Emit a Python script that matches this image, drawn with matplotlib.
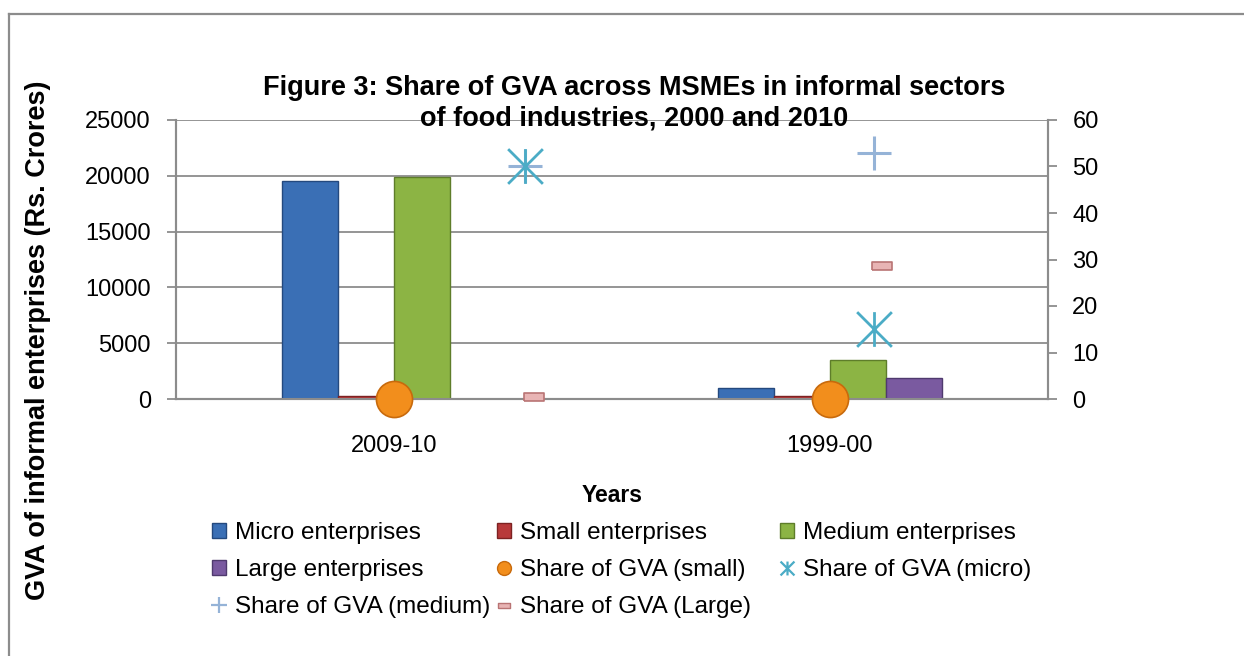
import matplotlib as mpl
mpl.use('Agg')
import matplotlib.pyplot as plt
from matplotlib.lines import Line2D
from matplotlib.patches import Patch
from matplotlib.path import Path
import numpy as np

plt.rcParams['font.family'] = ['Liberation Sans', 'DejaVu Sans']

# data
years = ['2009-10', '1999-00']
micro = [19500, 1000]
small = [250, 230]
medium = [19850, 3500]
large = [0, 1900]

share_small = [0, 0]
share_micro = [50, 15]
share_medium = [50, 53]
share_large = [0.4, 28.5]

bar_names = ['Micro enterprises', 'Small enterprises', 'Medium enterprises', 'Large enterprises']
bar_colors = ['#3a6fb5', '#b8393a', '#8cb444', '#7a5aa0']
bar_edges = ['#24497e', '#7d2222', '#5e7d2a', '#4f3a6e']

W, H = 1244, 656
fig = plt.figure(figsize=(W / 100.0, H / 100.0), dpi=100)

def fx(px):
    return px / float(W)

def fy(py):
    return 1 - py / float(H)

ax = fig.add_axes([fx(176), fy(399), fx(1048) - fx(176), fy(120) - fy(399)])
ax2 = ax.twinx()

x = np.arange(len(years))
w = 0.129
series = [micro, small, medium, large]
for i, vals in enumerate(series):
    ax.bar(x + (i - 1.5) * w, vals, w, color=bar_colors[i], edgecolor=bar_edges[i],
           linewidth=1.0, zorder=3)

ax.set_xlim(-0.5, 1.5)
ax.set_ylim(0, 25000)
ax.set_yticks(np.arange(0, 25001, 5000))
ax.set_xticks(x)
ax.set_xticklabels(years)
ax.yaxis.grid(True, color='#8c8c8c', linewidth=1.3)
ax.set_axisbelow(True)

grey = '#8c8c8c'
for a in (ax, ax2):
    a.spines['top'].set_visible(False)
    for s in ('left', 'right', 'bottom'):
        a.spines[s].set_color(grey)
        a.spines[s].set_linewidth(1.5)
ax.tick_params(axis='y', colors=grey, labelcolor='black', labelsize=17, length=6.5, width=1.3, pad=11.5)
ax.tick_params(axis='x', length=0, labelsize=17, pad=26)

ax2.set_ylim(0, 60)
ax2.set_yticks(np.arange(0, 61, 10))
ax2.tick_params(axis='y', colors=grey, labelcolor='black', labelsize=17, length=6.5, width=1.3, pad=11)

# markers of the share series sit at their own offsets inside each category
off_small = [0.0, 0.0]
off_micro = [0.30, 0.10]
off_medium = [0.30, 0.10]
off_large = [0.32, 0.12]

ast = Path([(0, -1), (0, 1), (-1, -1), (1, 1), (-1, 1), (1, -1)],
           [Path.MOVETO, Path.LINETO, Path.MOVETO, Path.LINETO, Path.MOVETO, Path.LINETO])
rect = [(-1, -0.4), (1, -0.4), (1, 0.4), (-1, 0.4), (-1, -0.4)]

ax2.plot(x + off_medium, share_medium, linestyle='none', marker='+', markersize=25,
         markeredgewidth=2.2, color='#95b3d7', clip_on=False, zorder=4)
ax2.plot(x + off_micro, share_micro, linestyle='none', marker=ast, markersize=25,
         markeredgewidth=2.0, color='#4bacc6', clip_on=False, zorder=5)
ax2.plot(x + off_large, share_large, linestyle='none', marker=rect, markersize=14,
         markerfacecolor='#e8b4b4', markeredgecolor='#b97474', markeredgewidth=1.2,
         clip_on=False, zorder=5)
ax2.plot(x + off_small, share_small, linestyle='none', marker='o', markersize=26,
         markerfacecolor='#f28e1c', markeredgecolor='#c86a0c', markeredgewidth=1.2,
         clip_on=False, zorder=6)

# titles
fig.text(fx(634), fy(88), 'Figure 3: Share of GVA across MSMEs in informal sectors',
         ha='center', va='center', fontsize=19.5, fontweight='bold')
fig.text(fx(634), fy(119), 'of food industries, 2000 and 2010',
         ha='center', va='center', fontsize=19.5, fontweight='bold')
fig.text(fx(38), fy(340), 'GVA of informal enterprises (Rs. Crores)', rotation=90,
         ha='center', va='center', fontsize=19.5, fontweight='bold')
fig.text(fx(612), fy(495), 'Years', ha='center', va='center', fontsize=16.5, fontweight='bold')

# legend, one block per column
h_micro = Patch(facecolor=bar_colors[0], edgecolor=bar_edges[0])
h_small = Patch(facecolor=bar_colors[1], edgecolor=bar_edges[1])
h_medium = Patch(facecolor=bar_colors[2], edgecolor=bar_edges[2])
h_large = Patch(facecolor=bar_colors[3], edgecolor=bar_edges[3])
h_ssmall = Line2D([], [], linestyle='none', marker='o', markersize=10,
                  markerfacecolor='#f28e1c', markeredgecolor='#c86a0c')
h_smicro = Line2D([], [], linestyle='none', marker=ast, markersize=10,
                  markeredgewidth=1.6, color='#4bacc6')
h_smedium = Line2D([], [], linestyle='none', marker='+', markersize=11,
                   markeredgewidth=1.6, color='#95b3d7')
h_slarge = Line2D([], [], linestyle='none', marker=rect, markersize=9,
                  markerfacecolor='#e8b4b4', markeredgecolor='#b97474')

cols = [
    ([h_micro, h_large, h_smedium], [bar_names[0], bar_names[3], 'Share of GVA (medium)'], 212),
    ([h_small, h_ssmall, h_slarge], [bar_names[1], 'Share of GVA (small)', 'Share of GVA (Large)'], 497),
    ([h_medium, h_smicro], [bar_names[2], 'Share of GVA (micro)'], 780),
]
for handles, labels, px in cols:
    lg = fig.legend(handles, labels, loc='upper left', bbox_to_anchor=(fx(px), fy(522)),
                    frameon=False, fontsize=17.5, handlelength=0.56, handleheight=0.56,
                    handletextpad=0.4, labelspacing=0.61, borderpad=0, borderaxespad=0)

# outer frame of the picture (only top and left edges are visible)
fig.add_artist(Line2D([fx(9), 1.0], [fy(14), fy(14)], color=grey, linewidth=1.6))
fig.add_artist(Line2D([fx(9), fx(9)], [fy(14), 0.0], color=grey, linewidth=1.6))

fig.savefig('out.png', dpi=100)
